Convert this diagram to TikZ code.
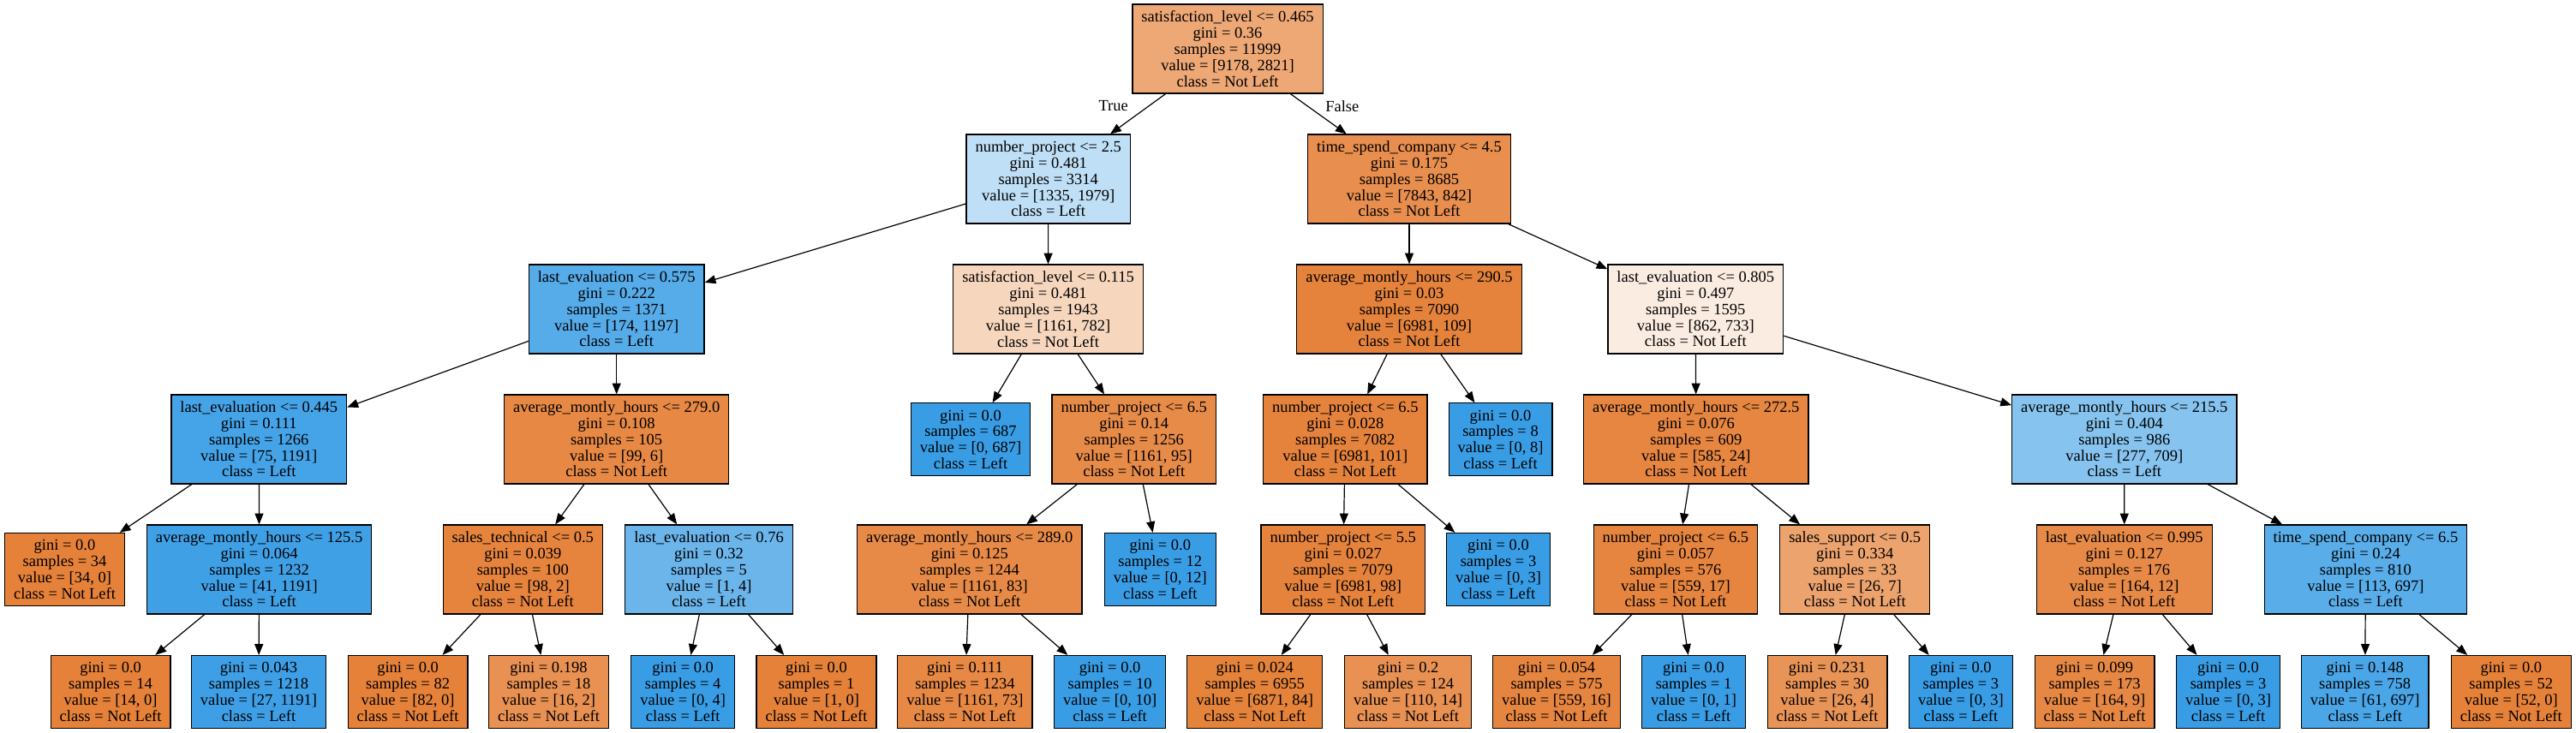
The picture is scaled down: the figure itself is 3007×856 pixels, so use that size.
\documentclass[tikz,border=0pt]{standalone}
\usepackage{fontspec}
\setmainfont{Liberation Serif}
\usetikzlibrary{arrows.meta}
\definecolor{cA}{RGB}{229,129,57}
\definecolor{cB}{RGB}{57,157,229}
\newcommand{\nfs}{\fontsize{9.25pt}{9.4pt}\selectfont}
\begin{document}
\begin{tikzpicture}[x=0.5pt,y=-0.5pt,
  tn/.style={draw=black, line width=0.6pt, rectangle, align=center, font=\nfs, inner xsep=5.25pt, inner ysep=2pt},
  dec/.style={tn, minimum height=52pt},
  leaf/.style={tn, minimum height=42.5pt},
  lbl/.style={font=\nfs, inner sep=0pt},
  arr/.style={-{Triangle[length=6.4pt,width=5pt]}, line width=0.6pt}]
\fill[white] (0,0) rectangle (3007,856);
\useasboundingbox (0,0) rectangle (3007,856);
% level 0
\node[dec, fill=cA!69.3!white] (root) at (1433,57) {satisfaction\_level <= 0.465\\gini = 0.36\\samples = 11999\\value = [9178, 2821]\\class = Not Left};
% level 1
\node[dec, fill=cB!32.5!white] (np25) at (1223.7,209) {number\_project <= 2.5\\gini = 0.481\\samples = 3314\\value = [1335, 1979]\\class = Left};
\node[dec, fill=cA!89.3!white] (tsc45) at (1645,209) {time\_spend\_company <= 4.5\\gini = 0.175\\samples = 8685\\value = [7843, 842]\\class = Not Left};
% level 2
\node[dec, fill=cB!85.5!white] (le575) at (719.7,361) {last\_evaluation <= 0.575\\gini = 0.222\\samples = 1371\\value = [174, 1197]\\class = Left};
\node[dec, fill=cA!32.6!white] (sl115) at (1223.5,361) {satisfaction\_level <= 0.115\\gini = 0.481\\samples = 1943\\value = [1161, 782]\\class = Not Left};
\node[dec, fill=cA!98.4!white] (amh2905) at (1645,361) {average\_montly\_hours <= 290.5\\gini = 0.03\\samples = 7090\\value = [6981, 109]\\class = Not Left};
\node[dec, fill=cA!15!white] (le805) at (1979.3,361) {last\_evaluation <= 0.805\\gini = 0.497\\samples = 1595\\value = [862, 733]\\class = Not Left};
% level 3
\node[dec, fill=cB!93.7!white] (le445) at (302.3,513) {last\_evaluation <= 0.445\\gini = 0.111\\samples = 1266\\value = [75, 1191]\\class = Left};
\node[dec, fill=cA!93.9!white] (amh279) at (719.7,513) {average\_montly\_hours <= 279.0\\gini = 0.108\\samples = 105\\value = [99, 6]\\class = Not Left};
\node[leaf, fill=cB] (leaf687) at (1133,513.3) {gini = 0.0\\samples = 687\\value = [0, 687]\\class = Left};
\node[dec, fill=cA!91.8!white] (np65a) at (1323.7,513) {number\_project <= 6.5\\gini = 0.14\\samples = 1256\\value = [1161, 95]\\class = Not Left};
\node[dec, fill=cA!98.6!white] (np65b) at (1570.3,513) {number\_project <= 6.5\\gini = 0.028\\samples = 7082\\value = [6981, 101]\\class = Not Left};
\node[leaf, fill=cB] (leaf8) at (1751.5,513.3) {gini = 0.0\\samples = 8\\value = [0, 8]\\class = Left};
\node[dec, fill=cA!95.9!white] (amh2725) at (1979.8,513) {average\_montly\_hours <= 272.5\\gini = 0.076\\samples = 609\\value = [585, 24]\\class = Not Left};
\node[dec, fill=cB!60.9!white] (amh2155) at (2479.8,513) {average\_montly\_hours <= 215.5\\gini = 0.404\\samples = 986\\value = [277, 709]\\class = Left};
% level 4
\node[leaf, fill=cA] (leaf34) at (75.5,665) {gini = 0.0\\samples = 34\\value = [34, 0]\\class = Not Left};
\node[dec, fill=cB!96.6!white] (amh1255) at (302.6,665) {average\_montly\_hours <= 125.5\\gini = 0.064\\samples = 1232\\value = [41, 1191]\\class = Left};
\node[dec, fill=cA!98!white] (st05) at (610.3,665) {sales\_technical <= 0.5\\gini = 0.039\\samples = 100\\value = [98, 2]\\class = Not Left};
\node[dec, fill=cB!75!white] (le076) at (827.5,665) {last\_evaluation <= 0.76\\gini = 0.32\\samples = 5\\value = [1, 4]\\class = Left};
\node[dec, fill=cA!92.9!white] (amh289) at (1131.8,665) {average\_montly\_hours <= 289.0\\gini = 0.125\\samples = 1244\\value = [1161, 83]\\class = Not Left};
\node[leaf, fill=cB] (leaf12) at (1354.3,665) {gini = 0.0\\samples = 12\\value = [0, 12]\\class = Left};
\node[dec, fill=cA!98.6!white] (np55) at (1567.7,665) {number\_project <= 5.5\\gini = 0.027\\samples = 7079\\value = [6981, 98]\\class = Not Left};
\node[leaf, fill=cB] (leaf3a) at (1749,665) {gini = 0.0\\samples = 3\\value = [0, 3]\\class = Left};
\node[dec, fill=cA!97!white] (np65c) at (1955.9,665) {number\_project <= 6.5\\gini = 0.057\\samples = 576\\value = [559, 17]\\class = Not Left};
\node[dec, fill=cA!73.1!white] (ss05) at (2165.2,665) {sales\_support <= 0.5\\gini = 0.334\\samples = 33\\value = [26, 7]\\class = Not Left};
\node[dec, fill=cA!92.7!white] (le995) at (2479.7,665) {last\_evaluation <= 0.995\\gini = 0.127\\samples = 176\\value = [164, 12]\\class = Not Left};
\node[dec, fill=cB!83.8!white] (tsc65) at (2761.4,665) {time\_spend\_company <= 6.5\\gini = 0.24\\samples = 810\\value = [113, 697]\\class = Left};
% level 5
\node[leaf, fill=cA] (l14) at (129.1,808) {gini = 0.0\\samples = 14\\value = [14, 0]\\class = Not Left};
\node[leaf, fill=cB!97.7!white] (l1218) at (302,808) {gini = 0.043\\samples = 1218\\value = [27, 1191]\\class = Left};
\node[leaf, fill=cA] (l82) at (476.1,808) {gini = 0.0\\samples = 82\\value = [82, 0]\\class = Not Left};
\node[leaf, fill=cA!87.5!white] (l18) at (640.5,808) {gini = 0.198\\samples = 18\\value = [16, 2]\\class = Not Left};
\node[leaf, fill=cB] (l4) at (797.2,808) {gini = 0.0\\samples = 4\\value = [0, 4]\\class = Left};
\node[leaf, fill=cA] (l1a) at (953,808) {gini = 0.0\\samples = 1\\value = [1, 0]\\class = Not Left};
\node[leaf, fill=cA!93.7!white] (l1234) at (1126.4,808) {gini = 0.111\\samples = 1234\\value = [1161, 73]\\class = Not Left};
\node[leaf, fill=cB] (l10) at (1295.6,808) {gini = 0.0\\samples = 10\\value = [0, 10]\\class = Left};
\node[leaf, fill=cA!98.8!white] (l6955) at (1464.7,808) {gini = 0.024\\samples = 6955\\value = [6871, 84]\\class = Not Left};
\node[leaf, fill=cA!87.3!white] (l124) at (1643.6,808) {gini = 0.2\\samples = 124\\value = [110, 14]\\class = Not Left};
\node[leaf, fill=cA!97.1!white] (l575) at (1817,808) {gini = 0.054\\samples = 575\\value = [559, 16]\\class = Not Left};
\node[leaf, fill=cB] (l1b) at (1977,808) {gini = 0.0\\samples = 1\\value = [0, 1]\\class = Left};
\node[leaf, fill=cA!84.6!white] (l30) at (2133,808) {gini = 0.231\\samples = 30\\value = [26, 4]\\class = Not Left};
\node[leaf, fill=cB] (l3b) at (2288.9,808) {gini = 0.0\\samples = 3\\value = [0, 3]\\class = Left};
\node[leaf, fill=cA!94.5!white] (l173) at (2445,808) {gini = 0.099\\samples = 173\\value = [164, 9]\\class = Not Left};
\node[leaf, fill=cB] (l3c) at (2601,808) {gini = 0.0\\samples = 3\\value = [0, 3]\\class = Left};
\node[leaf, fill=cB!91.2!white] (l758) at (2760.7,808) {gini = 0.148\\samples = 758\\value = [61, 697]\\class = Left};
\node[leaf, fill=cA] (l52) at (2931.3,808) {gini = 0.0\\samples = 52\\value = [52, 0]\\class = Not Left};
% edge labels
\node[lbl] (tlab) at (1299.7,124) {True};
\node[lbl] (flab) at (1566.8,124) {False};
% edges
\foreach \p/\c in {root/np25, root/tsc45,
  np25/le575, np25/sl115, tsc45/amh2905, tsc45/le805,
  le575/le445, le575/amh279, sl115/leaf687, sl115/np65a,
  amh2905/np65b, amh2905/leaf8, le805/amh2725, le805/amh2155,
  le445/leaf34, le445/amh1255, amh279/st05, amh279/le076,
  np65a/amh289, np65a/leaf12, np65b/np55, np65b/leaf3a,
  amh2725/np65c, amh2725/ss05, amh2155/le995, amh2155/tsc65,
  amh1255/l14, amh1255/l1218, st05/l82, st05/l18, le076/l4, le076/l1a,
  amh289/l1234, amh289/l10, np55/l6955, np55/l124,
  np65c/l575, np65c/l1b, ss05/l30, ss05/l3b,
  le995/l173, le995/l3c, tsc65/l758, tsc65/l52}
  \draw[arr] (\p) -- (\c);
\end{tikzpicture}
\end{document}
